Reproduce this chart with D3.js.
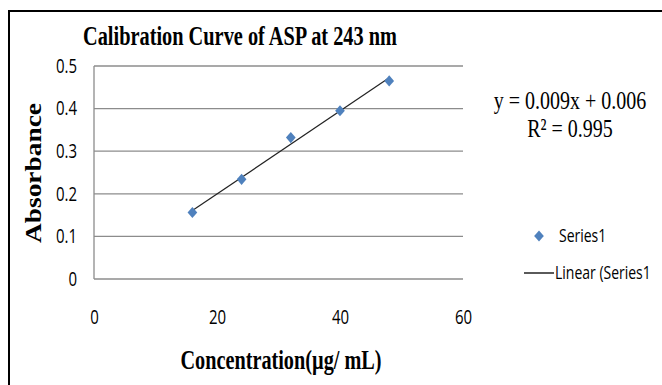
<!DOCTYPE html>
<html>
<head>
<meta charset="utf-8">
<script src="https://cdn.jsdelivr.net/npm/d3@7"></script>
<style>
  body { margin: 0; background: #fff; }
  svg { display: block; }
</style>
</head>
<body>
<div class="chart"></div>
<script>
const concentration = [16, 24, 32, 40, 48];
const absorbance = [0.156, 0.234, 0.332, 0.395, 0.465];
const xTicks = [0, 20, 40, 60];
const yTicks = [0, 0.1, 0.2, 0.3, 0.4, 0.5];
const equationLines = ['y = 0.009x + 0.006', 'R² = 0.995'];
const legendLabels = ['Series1', 'Linear (Series1'];

const width = 662, height = 385;
const plot = {left: 94, right: 463, top: 66, bottom: 279};
// the source picture is stretched vertically, text included
const stretch = 'scale(1,1.3)';

const svg = d3.select('.chart').append('svg')
    .attr('width', width)
    .attr('height', height);

// frame (only top and left visible in the crop)
svg.append('path')
    .attr('d', `M9,${height} V11 H${width}`)
    .attr('fill', 'none')
    .attr('stroke', '#000')
    .attr('stroke-width', 2);

const x = d3.scaleLinear().domain([0, 60]).range([plot.left, plot.right]);
const y = d3.scaleLinear().domain([0, 0.5]).range([plot.bottom, plot.top]);

// horizontal gridlines
svg.append('g')
    .selectAll('line')
    .data(yTicks)
    .enter()
    .append('line')
    .attr('x1', plot.left)
    .attr('x2', plot.right)
    .attr('y1', d => y(d))
    .attr('y2', d => y(d))
    .attr('stroke', '#8c8c8c')
    .attr('stroke-width', 1.3);

// left axis line
svg.append('line')
    .attr('x1', plot.left).attr('x2', plot.left)
    .attr('y1', y(0.5)).attr('y2', y(0))
    .attr('stroke', '#8c8c8c')
    .attr('stroke-width', 1.3);

const tickFont = '"Open Sans", "Noto Sans", sans-serif';
const serif = '"Liberation Serif", "Times New Roman", serif';

// y tick labels
const yAxis = d3.axisLeft(y).tickValues(yTicks).tickSize(0).tickPadding(17)
    .tickFormat(d => d === 0 ? '0' : d3.format('.1f')(d));
svg.append('g')
    .attr('transform', `translate(${plot.left},0)`)
    .call(yAxis)
    .call(g => g.select('.domain').remove())
    .selectAll('text')
    .attr('font-family', tickFont)
    .attr('font-size', 15)
    .attr('transform', stretch)
    .attr('fill', '#000');

// x tick labels
const xAxis = d3.axisBottom(x).tickValues(xTicks).tickSize(0).tickPadding(24)
    .tickFormat(d3.format('d'));
svg.append('g')
    .attr('transform', `translate(0,${plot.bottom})`)
    .call(xAxis)
    .call(g => g.select('.domain').remove())
    .selectAll('text')
    .attr('font-family', tickFont)
    .attr('font-size', 15)
    .attr('transform', stretch)
    .attr('fill', '#000');

// linear trend line from least squares
const mx = d3.mean(concentration), my = d3.mean(absorbance);
let sxy = 0, sxx = 0;
concentration.forEach((c, i) => {
    sxy += (c - mx) * (absorbance[i] - my);
    sxx += (c - mx) * (c - mx);
});
const slope = sxy / sxx, intercept = my - slope * mx;
const xr = d3.extent(concentration);

svg.append('path')
    .datum(xr.map(c => [c, slope * c + intercept]))
    .attr('d', d3.line().x(d => x(d[0])).y(d => y(d[1])))
    .attr('stroke', '#222')
    .attr('stroke-width', 1.2)
    .attr('fill', 'none');

// markers
const diamond = d3.symbol().type(d3.symbolDiamond2).size(60);
svg.append('g')
    .selectAll('path')
    .data(concentration.map((c, i) => [c, absorbance[i]]))
    .enter()
    .append('path')
    .attr('d', diamond)
    .attr('transform', d => `translate(${x(d[0])},${y(d[1])}) scale(1,1.15)`)
    .attr('fill', '#4f81bd');

// title
svg.append('text')
    .attr('transform', `translate(240,45) ${stretch}`)
    .attr('text-anchor', 'middle')
    .attr('font-family', serif)
    .attr('font-weight', 'bold')
    .attr('font-size', 21)
    .attr('textLength', 314)
    .attr('lengthAdjust', 'spacingAndGlyphs')
    .text('Calibration Curve of ASP at 243 nm');

// y axis title
svg.append('text')
    .attr('transform', 'translate(41,173) rotate(-90)')
    .attr('text-anchor', 'middle')
    .attr('font-family', serif)
    .attr('font-weight', 'bold')
    .attr('font-size', 23)
    .attr('textLength', 140)
    .attr('lengthAdjust', 'spacingAndGlyphs')
    .text('Absorbance');

// x axis title
svg.append('text')
    .attr('transform', `translate(281,369) ${stretch}`)
    .attr('text-anchor', 'middle')
    .attr('font-family', serif)
    .attr('font-weight', 'bold')
    .attr('font-size', 21)
    .attr('textLength', 201)
    .attr('lengthAdjust', 'spacingAndGlyphs')
    .text('Concentration(µg/ mL)');

// equation
svg.append('g')
    .selectAll('text')
    .data(equationLines)
    .enter()
    .append('text')
    .attr('transform', (d, i) => `translate(570,${109 + i * 28}) ${stretch}`)
    .attr('text-anchor', 'middle')
    .attr('font-family', serif)
    .attr('font-size', 20)
    .text(d => d);

// legend
const legend = svg.append('g').attr('font-family', tickFont).attr('font-size', 14);
legend.append('path')
    .attr('d', diamond)
    .attr('transform', 'translate(539,236) scale(1,1.15)')
    .attr('fill', '#4f81bd');
legend.append('line')
    .attr('x1', 524).attr('x2', 554)
    .attr('y1', 273).attr('y2', 273)
    .attr('stroke', '#000')
    .attr('stroke-width', 1.3);
legend.selectAll('text.lbl')
    .data(legendLabels)
    .enter()
    .append('text')
    .attr('class', 'lbl')
    .attr('transform', (d, i) => i === 0 ? `translate(559,242) ${stretch}` : `translate(555,279) ${stretch}`)
    .text(d => d);
</script>
</body>
</html>
